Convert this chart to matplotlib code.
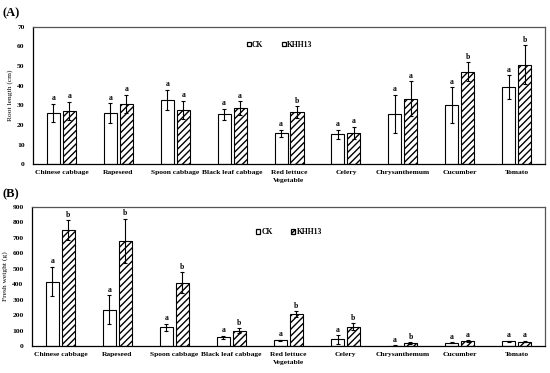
import numpy as np
import matplotlib.pyplot as plt
from matplotlib.patches import Patch

plt.rcParams['font.family'] = ['Liberation Serif', 'DejaVu Serif']
plt.rcParams['font.weight'] = 'bold'
plt.rcParams['hatch.linewidth'] = 1.0

categories = ['Chinese cabbage', 'Rapeseed', 'Spoon cabbage', 'Black leaf cabbage',
              'Red lettuce\nVegetable', 'Celery', 'Chrysanthemum', 'Cucumber', 'Tomato']

# (A) root length (cm)
root_ck = [26.1, 26.1, 32.9, 25.4, 15.7, 15.2, 25.6, 30.2, 39.2]
root_ck_err = [4.6, 5.0, 5.1, 2.9, 1.9, 2.4, 9.9, 9.0, 6.2]
root_khh = [27.0, 30.7, 27.8, 28.5, 26.4, 15.9, 33.3, 47.1, 50.7]
root_khh_err = [4.7, 4.8, 4.6, 3.6, 3.1, 3.0, 9.0, 4.9, 9.9]
root_ck_sig = ['a'] * 9
root_khh_sig = ['a', 'a', 'a', 'a', 'b', 'a', 'a', 'b', 'b']

# (B) fresh weight (g)
fw_ck = [417, 235, 123, 58, 37, 43, 4, 22, 32]
fw_ck_err = [95, 93, 22, 9, 5, 26, 2, 3, 4]
fw_khh = [749, 682, 410, 101, 207, 127, 19, 32, 30]
fw_khh_err = [65, 143, 69, 16, 18, 22, 5, 5, 6]
fw_ck_sig = ['a'] * 9
fw_khh_sig = ['b', 'b', 'b', 'b', 'b', 'b', 'b', 'a', 'a']

fig = plt.figure(figsize=(5.5, 3.73), dpi=100)
axA = fig.add_axes([0.060, 0.560, 0.931, 0.368])
axB = fig.add_axes([0.058, 0.072, 0.933, 0.373])

x = np.arange(len(categories))
w = 0.23
off = 0.14


def panel(ax, ck, ck_err, khh, khh_err, ck_sig, khh_sig, ymax, ystep, ylabel, pad, leg_xy):
    ax.bar(x - off, ck, w, color='white', edgecolor='black', linewidth=0.8)
    ax.bar(x + off, khh, w, color='white', edgecolor='black', linewidth=0.8, hatch='/////')
    ax.errorbar(x - off, ck, yerr=ck_err, fmt='none', ecolor='black', elinewidth=0.8, capsize=1.5, capthick=0.8)
    ax.errorbar(x + off, khh, yerr=khh_err, fmt='none', ecolor='black', elinewidth=0.8, capsize=1.5, capthick=0.8)
    for i in range(len(x)):
        ax.text(x[i] - off, ck[i] + ck_err[i] + pad, ck_sig[i], ha='center', va='bottom', fontsize=5.5)
        ax.text(x[i] + off, khh[i] + khh_err[i] + pad, khh_sig[i], ha='center', va='bottom', fontsize=5.5)
    ax.set_xlim(-0.5, len(x) - 0.5)
    ax.set_ylim(0, ymax)
    ax.set_yticks(np.arange(0, ymax + 1, ystep))
    ax.set_xticks(x)
    ax.set_xticklabels(categories, fontsize=5.4, linespacing=1.8)
    ax.tick_params(axis='both', length=0, labelsize=5.4, pad=4)
    ax.tick_params(axis='y', pad=6)
    ax.set_ylabel(ylabel, fontsize=5.4, labelpad=3)
    for s in ['top', 'right']:
        ax.spines[s].set_color('#555555')
    for s in ax.spines.values():
        s.set_linewidth(0.9)
    handles = [Patch(facecolor='white', edgecolor='black', linewidth=0.9),
               Patch(facecolor='white', edgecolor='black', linewidth=0.9, hatch='////')]
    ax.legend(handles, ['CK', 'KHH13'], loc='center left', bbox_to_anchor=leg_xy, ncol=2,
              frameon=False, fontsize=5.5, handlelength=0.5, handleheight=0.5,
              handletextpad=0.2, columnspacing=2.4, borderpad=0)


panel(axA, root_ck, root_ck_err, root_khh, root_khh_err, root_ck_sig, root_khh_sig,
      70, 10, 'Root length (cm)', 0.8, (0.41, 0.87))
panel(axB, fw_ck, fw_ck_err, fw_khh, fw_khh_err, fw_ck_sig, fw_khh_sig,
      900, 100, 'Fresh weight (g)', 10, (0.43, 0.82))

fig.text(0.004, 0.965, '(A)', fontsize=9, fontweight='bold', va='center')
fig.text(0.004, 0.478, '(B)', fontsize=9, fontweight='bold', va='center')

fig.savefig('out.png', dpi=100)
